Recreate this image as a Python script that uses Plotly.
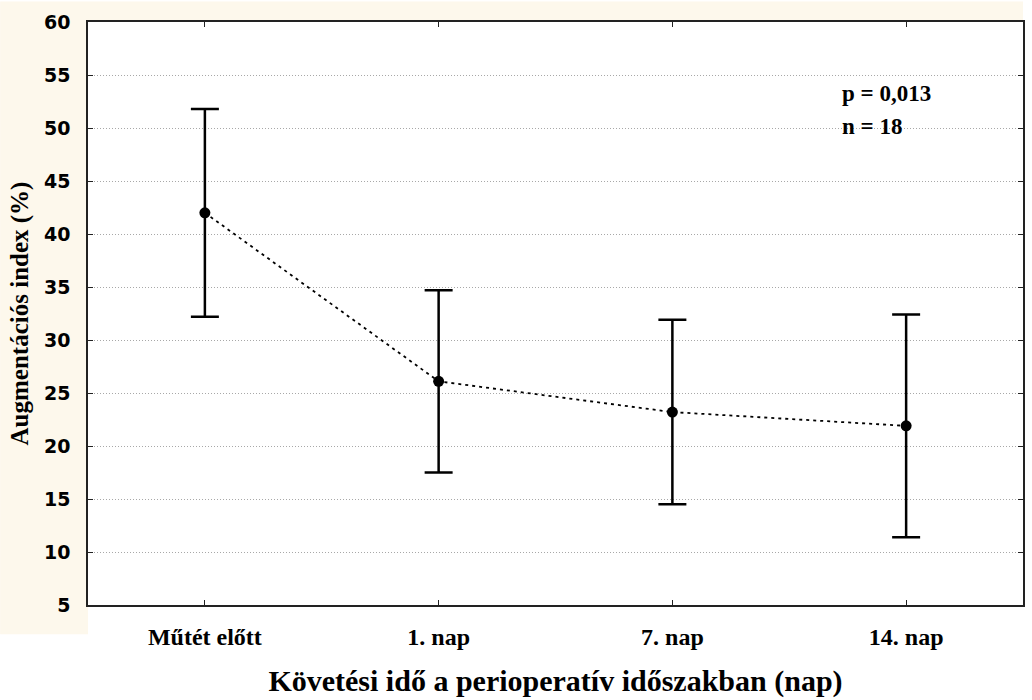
import plotly.graph_objects as go

# Augmentation index over the perioperative follow-up
categories = ["Műtét előtt", "1. nap", "7. nap", "14. nap"]
mean_ai = [42.0, 26.1, 23.2, 21.9]
sd_ai = [9.8, 8.6, 8.7, 10.5]
y_ticks = [5, 10, 15, 20, 25, 30, 35, 40, 45, 50, 55, 60]
stats_lines = ["p = 0,013", "n = 18"]

x_idx = list(range(len(categories)))

fig = go.Figure()

fig.add_trace(go.Scatter(
    x=x_idx,
    y=mean_ai,
    mode="lines+markers",
    line=dict(color="black", width=1.8, dash="3px,4px"),
    marker=dict(color="black", size=11),
    error_y=dict(type="data", array=sd_ai, visible=True,
                 color="black", thickness=2.5, width=14),
    showlegend=False,
    hoverinfo="skip",
))

serif = "Liberation Serif, Times New Roman, serif"
sans = "DejaVu Sans, Arial, sans-serif"

# statistics box, one annotation per line
stat_annotations = [
    dict(text=txt, xref="paper", yref="paper",
         x=0.804, y=yy, xanchor="left", yanchor="middle", align="left",
         showarrow=False,
         font=dict(family=serif, size=23, color="black", weight="bold"))
    for txt, yy in zip(stats_lines, [0.877, 0.820])
]

fig.update_layout(
    width=1032, height=700,
    margin=dict(l=88, r=7, t=22, b=95),
    paper_bgcolor="white",
    plot_bgcolor="white",
    xaxis=dict(
        range=[-0.5, 3.5],
        tickmode="array", tickvals=x_idx, ticktext=categories,
        ticks="inside", ticklen=5, tickcolor="#222",
        ticklabelstandoff=9,
        showline=True, linecolor="#222", linewidth=1.5, mirror="ticks",
        showgrid=False, zeroline=False,
        tickfont=dict(family=serif, size=24, color="black", weight="bold"),
        title=dict(text="Követési idő a perioperatív időszakban (nap)",
                   font=dict(family=serif, size=30, color="black", weight="bold"),
                   standoff=21),
    ),
    yaxis=dict(
        range=[5, 60],
        tickmode="array", tickvals=y_ticks,
        ticks="inside", ticklen=5, tickcolor="#222",
        ticklabelstandoff=12,
        showline=True, linecolor="#222", linewidth=1.5, mirror="ticks",
        showgrid=True, gridcolor="#a8a8a8", griddash="1px,2px", gridwidth=1,
        zeroline=False,
        tickfont=dict(family=sans, size=19, color="black", weight="bold"),
        title=dict(text="Augmentációs index (%)",
                   font=dict(family=serif, size=25, color="black", weight="bold"),
                   standoff=8),
    ),
    shapes=[
        dict(type="rect", xref="paper", yref="paper", x0=-0.094, x1=0.0, y0=-0.05, y1=1.035,
             fillcolor="#fdf8ec", line=dict(width=0), layer="below"),
        dict(type="rect", xref="paper", yref="paper", x0=0.0, x1=1.0, y0=1.0, y1=1.035,
             fillcolor="#fdf8ec", line=dict(width=0), layer="below"),
    ],
    annotations=stat_annotations,
)

fig.write_html("out.html")
